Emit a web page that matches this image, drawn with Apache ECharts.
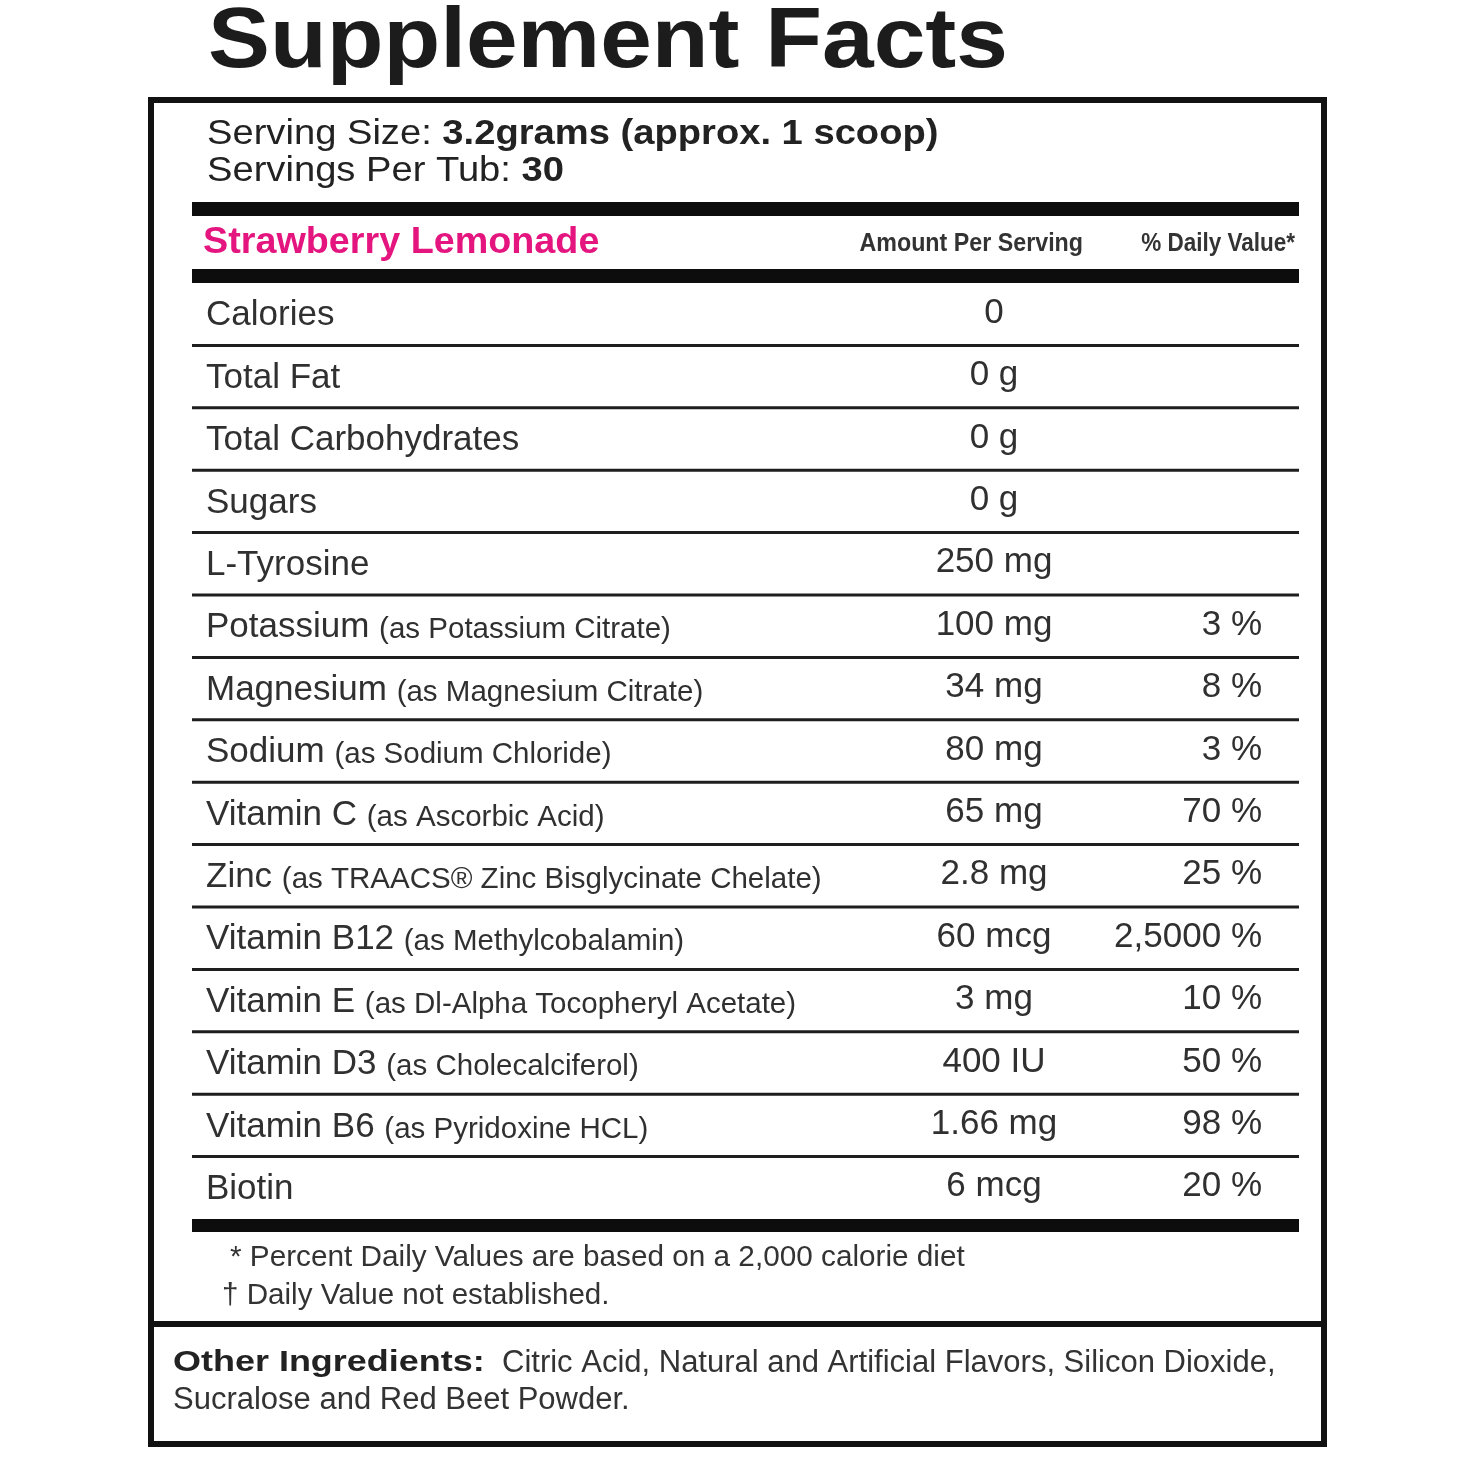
<!DOCTYPE html>
<html>
<head>
<meta charset="utf-8">
<script src="https://cdn.jsdelivr.net/npm/echarts@6/dist/echarts.min.js"></script>
<style>
  html, body { margin: 0; padding: 0; background: #ffffff; }
  #chart { width: 1460px; height: 1460px; }
</style>
</head>
<body>
<div id="chart"></div>
<script>
// ---------- data ----------
const title = 'Supplement Facts';
const servingSize = '3.2grams (approx. 1 scoop)';
const servingsPerTub = '30';
const flavor = 'Strawberry Lemonade';
const columnHeaders = ['Amount Per Serving', '% Daily Value*'];
const nutrients = ['Calories', 'Total Fat', 'Total Carbohydrates', 'Sugars', 'L-Tyrosine',
  'Potassium', 'Magnesium', 'Sodium', 'Vitamin C', 'Zinc', 'Vitamin B12', 'Vitamin E',
  'Vitamin D3', 'Vitamin B6', 'Biotin'];
const sources = ['', '', '', '', '',
  '(as Potassium Citrate)', '(as Magnesium Citrate)', '(as Sodium Chloride)', '(as Ascorbic Acid)',
  '(as TRAACS® Zinc Bisglycinate Chelate)', '(as Methylcobalamin)', '(as Dl-Alpha Tocopheryl Acetate)',
  '(as Cholecalciferol)', '(as Pyridoxine HCL)', ''];
const amounts = ['0', '0 g', '0 g', '0 g', '250 mg', '100 mg', '34 mg', '80 mg', '65 mg',
  '2.8 mg', '60 mcg', '3 mg', '400 IU', '1.66 mg', '6 mcg'];
const dailyValues = ['', '', '', '', '', '3 %', '8 %', '3 %', '70 %', '25 %', '2,5000 %',
  '10 %', '50 %', '98 %', '20 %'];
const footnotes = ['* Percent Daily Values are based on a 2,000 calorie diet', '† Daily Value not established.'];
const otherLabel = 'Other Ingredients:';
const otherIngredients = ['Citric Acid, Natural and Artificial Flavors, Silicon Dioxide,', 'Sucralose and Red Beet Powder.'];

// ---------- styles ----------
const FF = '"Liberation Sans", Arial, Helvetica, sans-serif';
const INK = '#303030';
const RULE = '#111111';
const PINK = '#e5157f';

function T(x, y, text, font, o) {
  o = o || {};
  const al = o.align || 'left';
  return {
    type: 'text', x: x, y: y, silent: true,
    scaleX: o.scaleX || 1, scaleY: o.scaleY || 1,
    style: {
      text: text, font: font, fill: o.fill || INK,
      align: al, textAlign: al, verticalAlign: 'middle', textVerticalAlign: 'middle'
    }
  };
}

const graphics = [
  T(208, 43, title, 'bold 86px ' + FF, { scaleX: 1.08, fill: '#1c1c1c' }),
  { type: 'rect', silent: true, shape: { x: 151, y: 100, width: 1173, height: 1344 },
    style: { fill: 'none', stroke: RULE, lineWidth: 6 } },
  { type: 'line', silent: true, shape: { x1: 151, y1: 1324, x2: 1324, y2: 1324 },
    style: { stroke: RULE, lineWidth: 6 } },
  { type: 'text', x: 207, y: 134, scaleX: 1.09, silent: true,
    style: { text: '{r|Serving Size: }{b|' + servingSize + '}',
      rich: { r: { font: '35px ' + FF, fill: '#222' }, b: { font: 'bold 35px ' + FF, fill: '#222' } },
      align: 'left', textAlign: 'left', verticalAlign: 'middle', textVerticalAlign: 'middle' } },
  { type: 'text', x: 207, y: 171, scaleX: 1.09, silent: true,
    style: { text: '{r|Servings Per Tub: }{b|' + servingsPerTub + '}',
      rich: { r: { font: '35px ' + FF, fill: '#222' }, b: { font: 'bold 35px ' + FF, fill: '#222' } },
      align: 'left', textAlign: 'left', verticalAlign: 'middle', textVerticalAlign: 'middle' } },
  { type: 'rect', silent: true, shape: { x: 192, y: 202, width: 1107, height: 14 }, style: { fill: '#0d0d0d' } },
  { type: 'rect', silent: true, shape: { x: 192, y: 269, width: 1107, height: 14 }, style: { fill: '#0d0d0d' } },
  { type: 'rect', silent: true, shape: { x: 192, y: 1219, width: 1107, height: 13 }, style: { fill: '#0d0d0d' } },
  T(203, 243, flavor, 'bold 37px ' + FF, { fill: PINK, scaleX: 1.02 }),
  T(1083, 244, columnHeaders[0], 'bold 25px ' + FF, { align: 'right', scaleX: 0.93, fill: '#333' }),
  T(1295, 244, columnHeaders[1], 'bold 25px ' + FF, { align: 'right', scaleX: 0.9, fill: '#333' }),
  T(230, 1258, footnotes[0], '29px ' + FF, { fill: '#333', scaleX: 1.025 }),
  T(222, 1296, footnotes[1], '29px ' + FF, { fill: '#333', scaleX: 1.02 }),
  T(173, 1363, otherLabel, 'bold 29px ' + FF, { scaleX: 1.24, fill: '#222' }),
  T(502, 1363, otherIngredients[0], '31px ' + FF, { fill: '#333' }),
  T(173, 1400, otherIngredients[1], '31px ' + FF, { fill: '#333' })
];

const AMOUNT_OFFSET = 802;  // centre of amount column from grid left
const DV_OFFSET = 1070;     // right edge of % DV column from grid left

const chart = echarts.init(document.getElementById('chart'), null, { renderer: 'canvas' });
chart.setOption({
  animation: false,
  backgroundColor: '#ffffff',
  grid: { left: 192, top: 283, width: 1107, height: 936, containLabel: false },
  xAxis: { type: 'value', min: 0, max: 1, show: false },
  yAxis: { type: 'category', data: nutrients, inverse: true, show: false },
  graphic: { elements: graphics },
  series: [{
    type: 'custom',
    clip: false,
    silent: true,
    data: nutrients.map(function (n, i) { return [0, i]; }),
    renderItem: function (params, api) {
      const i = params.dataIndex;
      const c = api.coord([0, i]);
      const h = api.size([0, 1])[1];
      const cs = params.coordSys;
      const x0 = cs.x, w = cs.width, yc = c[1] - 1;
      const nameText = sources[i]
        ? '{n|' + nutrients[i] + ' }{s|' + sources[i] + '}'
        : '{n|' + nutrients[i] + '}';
      const children = [
        { type: 'text', x: x0 + 14, y: yc,
          style: { text: nameText,
            rich: {
              n: { font: '35px ' + FF, fill: INK, verticalAlign: 'bottom', lineHeight: 40 },
              s: { font: '29.5px ' + FF, fill: INK, verticalAlign: 'bottom', lineHeight: 36 }
            },
            align: 'left', textAlign: 'left', verticalAlign: 'middle', textVerticalAlign: 'middle' } },
        { type: 'text', x: x0 + AMOUNT_OFFSET, y: yc,
          style: { text: amounts[i], font: '35px ' + FF, fill: INK,
            align: 'center', textAlign: 'center', verticalAlign: 'middle', textVerticalAlign: 'middle' } },
        { type: 'text', x: x0 + DV_OFFSET, y: yc,
          style: { text: dailyValues[i], font: '35px ' + FF, fill: INK,
            align: 'right', textAlign: 'right', verticalAlign: 'middle', textVerticalAlign: 'middle' } }
      ];
      if (i < nutrients.length - 1) {
        const yl = c[1] + h / 2;
        children.push({ type: 'line', shape: { x1: x0, y1: yl, x2: x0 + w, y2: yl },
          style: { stroke: '#1e1e1e', lineWidth: 3 } });
      }
      return { type: 'group', children: children };
    }
  }]
});
</script>
</body>
</html>
